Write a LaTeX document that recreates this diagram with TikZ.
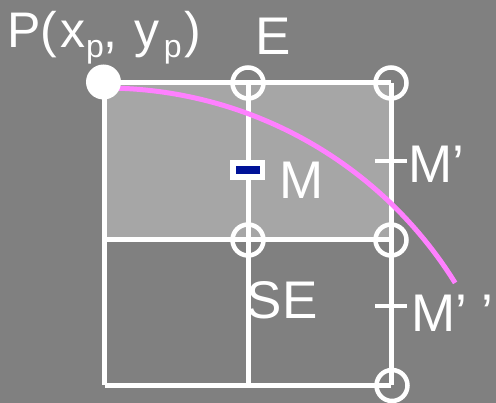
\documentclass[tikz,border=0pt]{standalone}
\usepackage{fontspec}
\setmainfont{Liberation Sans}
\definecolor{bggray}{RGB}{128,128,128}
\definecolor{litegray}{RGB}{166,166,166}
\definecolor{curvepink}{RGB}{255,128,255}
\definecolor{markblue}{RGB}{0,18,152}
\tikzset{
  gridline/.style={draw=white,line width=5pt},
  ring/.style={circle,draw=white,line width=4.5pt,minimum size=31pt,inner sep=0pt},
  tick/.style={draw=white,line width=4.5pt},
  lbl/.style={text=white,anchor=base west,inner sep=0pt,font=\fontsize{53}{60}\selectfont},
}
\newcommand{\subp}{\raisebox{-10pt}{\fontsize{32}{32}\selectfont p}}
\begin{document}
\begin{tikzpicture}[x=1pt,y=-1pt]
\useasboundingbox (0,0) rectangle (496,403);
\fill[bggray] (0,0) rectangle (496,403);
% points
\coordinate (P) at (104.5,83);
\coordinate (E) at (248,83);
\coordinate (NE) at (391,83);
\coordinate (W) at (104.5,240);
\coordinate (C) at (248,240);
\coordinate (R) at (391,240);
\coordinate (SW) at (104.5,385.5);
\coordinate (S) at (248,385.5);
\coordinate (SEc) at (391,385.5);
\fill[litegray] (P) rectangle (R);
% grid
\draw[gridline] (P) -- (NE);
\draw[gridline] (W) -- (R);
\draw[gridline] (SW) -- (SEc);
\draw[gridline] (P) -- (SW);
\draw[gridline] (E) -- (S);
\draw[gridline] (NE) -- (SEc);
% curve
\coordinate (O) at (105,500);
\draw[curvepink,line width=5pt] (O) ++(-88.2:412) arc[start angle=-88.2,end angle=-31.8,radius=412];
% rings
\node[ring] (rE) at (E) {};
\node[ring] (rNE) at (NE) {};
\node[ring] (rC) at (C) {};
\node[ring] (rR) at (R) {};
\node[ring] (rSE) at (392,385.5) {};
\node[circle,fill=white,minimum size=35pt,inner sep=0pt] (dotP) at (103.5,82) {};
% M marker
\node[fill=white,minimum width=35pt,minimum height=20pt,inner sep=0pt] (mbox) at (247.5,170) {};
\node[fill=markblue,minimum width=24pt,minimum height=8.5pt,inner sep=0pt] (mblue) at (248,170) {};
% ticks
\coordinate (t1a) at (375,161);
\coordinate (t1b) at (407,161);
\coordinate (t2a) at (375,306);
\coordinate (t2b) at (407,306);
\draw[tick] (t1a) -- (t1b);
\draw[tick] (t2a) -- (t2b);
% labels
\node[lbl,font=\fontsize{50}{56}\selectfont] (lP) at (7,48) {P(\kern3pt x\kern1pt\subp,\kern3pt\ y\kern4pt\subp\kern3pt)};
\node[lbl] (lE) at (255,55) {E};
\node[lbl] (lM) at (279,199) {M};
\node[lbl] (lM1) at (408,183) {M’};
\node[lbl] (lM2) at (411,332) {M’ ’};
\node[lbl] (lSE) at (246.5,319) {SE};
\end{tikzpicture}
\end{document}
